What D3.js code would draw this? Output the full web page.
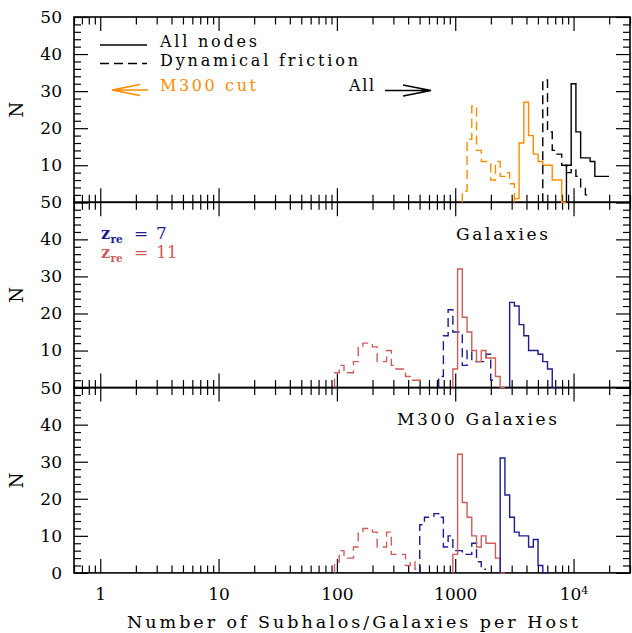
<!DOCTYPE html>
<html><head><meta charset="utf-8">
<script src="https://cdn.jsdelivr.net/npm/d3@7"></script>
<style>
html,body{margin:0;padding:0;background:#fff;}
svg{display:block;}
text{font-family:"DejaVu Serif",serif;}
</style></head><body>
<svg id="chart" width="632" height="633"></svg>
<script>
// ================= DATA =================
// histogram bins are uniform in log10(N): width in dex, start = log10 of first bin's lower edge
const binWidthDex = 0.04;

const xTickValues = [1, 10, 100, 1000, 10000];
const xTickLabels = ["1", "10", "100", "1000", "10^4"];
const yTickValues = [0, 10, 20, 30, 40, 50];
const panelTitles = ["", "Galaxies", "M300 Galaxies"];

// --- top panel: subhalos ---
const allNodesStart = 3.94;
const allNodesCounts = [10, 32, 19, 12, 12, 11, 7, 7, 7];
const allDynFricStart = 3.74;
const allDynFricCounts = [33, 19, 14, 13, 10, 8, 9, 7, 4, 2];
const m300NodesStart = 3.50;
const m300NodesCounts = [1, 16, 27, 18, 13, 11, 10, 10, 6, 6, 0];
const m300DynFricStart = 3.06;
const m300DynFricCounts = [3, 17, 26, 14, 11, 11, 6, 11, 7, 8, 5, 1];

// --- middle panel: galaxies ---
const galZ7Start = 3.46;
const galZ7Counts = [23, 22, 17, 14, 10, 10, 9, 7, 5, 0];
const galZ11Start = 2.98;
const galZ11Counts = [5, 32, 19, 15, 10, 7, 10, 8, 8, 3, 0];
const galZ7DFStart = 2.86;
const galZ7DFCounts = [3, 14, 21, 15, 15, 6, 10, 7, 7, 7, 9, 2];
const galZ11DFStart = 1.98;
const galZ11DFCounts = [4, 6, 4, 4, 7, 11, 12, 12, 11, 7, 7, 10, 6, 5, 5, 3, 2, 2, 2];

// --- bottom panel: M300 galaxies ---
const m300Z7Start = 3.38;
const m300Z7Counts = [31, 21, 15, 11, 10, 10, 7, 9, 2, 0];
const m300Z11Start = 2.98;
const m300Z11Counts = [5, 32, 19, 15, 10, 7, 10, 8, 8, 4, 0];
const m300Z7DFStart = 2.70;
const m300Z7DFCounts = [13, 15, 15, 16, 15, 7, 10, 6, 6, 5, 5, 8, 3, 1];
const m300Z11DFStart = 1.98;
const m300Z11DFCounts = [3, 6, 4, 4, 7, 11, 12, 12, 11, 7, 7, 11, 5, 5, 5, 2, 3, 1];

// ================= STYLE / LAYOUT =================
const ORANGE = "#ff8c00", BLUE = "#1c1c8e", RED = "#cd5c5c", BLACK = "#000";
const DASH = "9,5";
const plotLeft = 74, plotRight = 630, plotTop = 17, panelH = 185.3;

const series = [
  {panel: 0, start: m300DynFricStart, counts: m300DynFricCounts, color: ORANGE, dash: true},
  {panel: 0, start: m300NodesStart, counts: m300NodesCounts, color: ORANGE, dash: false},
  {panel: 0, start: allDynFricStart, counts: allDynFricCounts, color: BLACK, dash: true},
  {panel: 0, start: allNodesStart, counts: allNodesCounts, color: BLACK, dash: false},
  {panel: 1, start: galZ11DFStart, counts: galZ11DFCounts, color: RED, dash: true},
  {panel: 1, start: galZ7DFStart, counts: galZ7DFCounts, color: BLUE, dash: true},
  {panel: 1, start: galZ11Start, counts: galZ11Counts, color: RED, dash: false},
  {panel: 1, start: galZ7Start, counts: galZ7Counts, color: BLUE, dash: false},
  {panel: 2, start: m300Z11DFStart, counts: m300Z11DFCounts, color: RED, dash: true},
  {panel: 2, start: m300Z7DFStart, counts: m300Z7DFCounts, color: BLUE, dash: true},
  {panel: 2, start: m300Z11Start, counts: m300Z11Counts, color: RED, dash: false},
  {panel: 2, start: m300Z7Start, counts: m300Z7Counts, color: BLUE, dash: false}
];

const svg = d3.select("#chart");
const x = d3.scaleLog().domain([0.6, 30000]).range([plotLeft, plotRight]);

const xMinor = [];
[0.1, 1, 10, 100, 1000, 10000].forEach(d => { for (let m = 2; m <= 9; m++) { const v = d * m; if (v >= 0.6 && v <= 30000) xMinor.push(v); } });
const yMinor = d3.range(0, 51, 2).filter(v => v % 10 !== 0);

function styleAxis(g) {
  g.select(".domain").remove();
  g.selectAll(".tick line").attr("stroke", "#000").attr("stroke-width", 1.2);
  g.selectAll(".tick text").style("font-family", '"DejaVu Serif", serif').style("font-size", "17px").style("fill", "#000");
}

const yScales = [];
for (let i = 0; i < 3; i++) {
  const top = plotTop + i * panelH, bottom = top + panelH;
  const y = d3.scaleLinear().domain([0, 50]).range([bottom, top]);
  yScales.push(y);
  const g = svg.append("g");
  // x axes (bottom & top of each panel), ticks inward
  g.append("g").attr("transform", `translate(0,${bottom})`)
    .call(d3.axisBottom(x).tickValues(xMinor).tickSize(-7.5).tickFormat(""))
    .call(styleAxis);
  const xb = g.append("g").attr("transform", `translate(0,${bottom})`)
    .call(d3.axisBottom(x).tickValues(xTickValues).tickSize(-14).tickPadding(15)
      .tickFormat((d, k) => i === 2 ? xTickLabels[k] : ""))
    .call(styleAxis);
  if (i === 2) {
    xb.selectAll(".tick text").filter(d => d === 10000).each(function () {
      const t = d3.select(this); t.text("");
      t.append("tspan").text("10");
      t.append("tspan").attr("dy", "-0.55em").style("font-size", "11px").text("4");
    });
  }
  g.append("g").attr("transform", `translate(0,${top})`)
    .call(d3.axisTop(x).tickValues(xMinor).tickSize(-7.5).tickFormat("")).call(styleAxis);
  g.append("g").attr("transform", `translate(0,${top})`)
    .call(d3.axisTop(x).tickValues(xTickValues).tickSize(-14).tickFormat("")).call(styleAxis);
  // y axes left & right (the "0" of upper panels coincides with the "0" of the next panel's "50")
  g.append("g").attr("transform", `translate(${plotLeft},0)`)
    .call(d3.axisLeft(y).tickValues(yMinor).tickSize(-7).tickFormat("")).call(styleAxis);
  g.append("g").attr("transform", `translate(${plotLeft},0)`)
    .call(d3.axisLeft(y).tickValues(yTickValues).tickSize(-14).tickPadding(12)
      .tickFormat(d => (d === 0 && i < 2) ? "" : d3.format("d")(d)))
    .call(styleAxis);
  g.append("g").attr("transform", `translate(${plotRight},0)`)
    .call(d3.axisRight(y).tickValues(yMinor).tickSize(-7).tickFormat("")).call(styleAxis);
  g.append("g").attr("transform", `translate(${plotRight},0)`)
    .call(d3.axisRight(y).tickValues(yTickValues).tickSize(-14).tickFormat("")).call(styleAxis);
  // frame
  g.append("rect").attr("x", plotLeft).attr("y", top).attr("width", plotRight - plotLeft).attr("height", panelH)
    .attr("fill", "none").attr("stroke", "#000").attr("stroke-width", 1.6);
  // y label
  svg.append("text").attr("transform", `translate(23,${(top + bottom) / 2}) rotate(-90)`)
    .attr("text-anchor", "middle").style("font-size", "18px").style("fill", "#000").text("N");
}

// histograms
const stepLine = d3.line().x(d => x(d.v)).y(d => d.y).curve(d3.curveStepAfter);
series.forEach(s => {
  const y = yScales[s.panel];
  const pts = [{v: Math.pow(10, s.start), y: y(0)}];
  s.counts.forEach((c, k) => pts.push({v: Math.pow(10, s.start + k * binWidthDex), y: y(c)}));
  pts.push({v: Math.pow(10, s.start + s.counts.length * binWidthDex), y: y(s.counts[s.counts.length - 1])});
  svg.append("path").attr("d", stepLine(pts)).attr("fill", "none")
    .attr("stroke", s.color).attr("stroke-width", 1.4)
    .attr("stroke-dasharray", s.dash ? DASH : null);
});

// ---------- legend & annotations ----------
function txt(str, xx, yy, size, len, color) {
  const t = svg.append("text").attr("x", xx).attr("y", yy).style("font-size", size + "px")
    .style("fill", color || "#000").text(str);
  if (len) t.attr("textLength", len).attr("lengthAdjust", "spacing");
  return t;
}
svg.append("line").attr("x1", 100).attr("x2", 147).attr("y1", 45).attr("y2", 45).attr("stroke", "#000").attr("stroke-width", 1.3);
svg.append("line").attr("x1", 100).attr("x2", 147).attr("y1", 63.5).attr("y2", 63.5).attr("stroke", "#000").attr("stroke-width", 1.3).attr("stroke-dasharray", DASH);
txt("All nodes", 160, 47, 16, 97);
txt("Dynamical friction", 160, 65.5, 16, 198);
txt("M300 cut", 160, 91, 16, 96, ORANGE);
txt("All", 349, 91, 16, 25);

// arrows
svg.append("path").attr("d", "M148,90 L112,90 M140,84.5 L112,90 L140,95.5")
  .attr("fill", "none").attr("stroke", ORANGE).attr("stroke-width", 1.5);
svg.append("path").attr("d", "M385,90.5 L431,90.5 M403,85 L431,90.5 L403,96")
  .attr("fill", "none").attr("stroke", "#000").attr("stroke-width", 1.5);

// z_re labels
function zlabel(yy, val, color) {
  svg.append("text").attr("x", 101).attr("y", yy).style("font-size", "16px").style("font-weight", "bold").style("fill", color).text("z");
  svg.append("text").attr("x", 110.5).attr("y", yy + 4).style("font-size", "10.5px").style("font-weight", "bold").style("fill", color).text("re");
  svg.append("text").attr("x", 134).attr("y", yy).style("font-size", "17px").style("fill", color).text("=");
  svg.append("text").attr("x", 156).attr("y", yy).style("font-size", "17px").style("fill", color).text(val);
}
zlabel(239, "7", BLUE);
zlabel(258, "11", RED);

txt(panelTitles[1], 456, 240, 17, 92);
txt(panelTitles[2], 397, 425, 17, 160);

txt("Number of Subhalos/Galaxies per Host", 127, 628, 17.5, 451);
</script>
</body></html>
